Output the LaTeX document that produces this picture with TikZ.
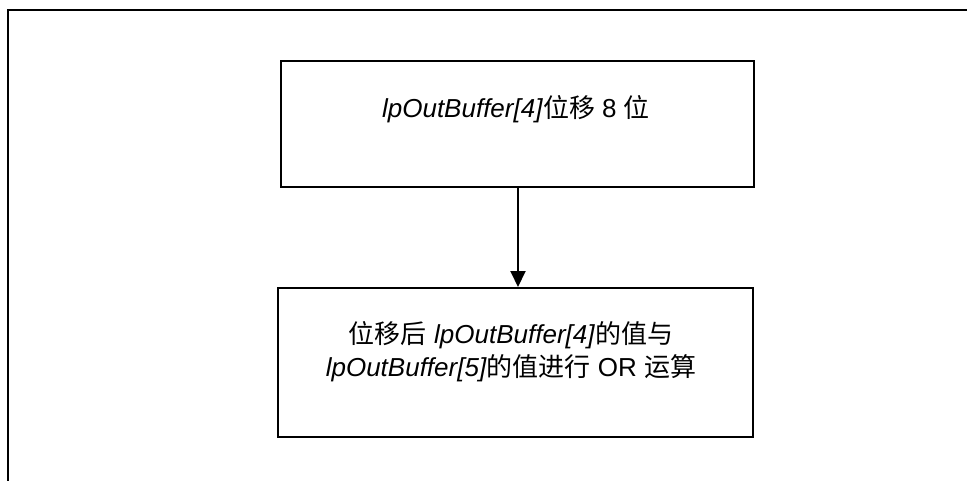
\documentclass[tikz,border=0pt]{standalone}
\usepackage{fontspec}
\setmainfont{Liberation Sans}
\newfontfamily\cjk{Noto Sans CJK SC}
\usetikzlibrary{arrows.meta}
\tikzset{
  boxstyle/.style={draw=black, line width=2pt, minimum width=#1, inner sep=0pt},
  txt/.style={font=\fontsize{26}{33}\selectfont, align=center, inner sep=0pt},
  flow/.style={line width=2pt, -{Triangle[width=15pt,length=16pt]}}
}
\begin{document}
\begin{tikzpicture}[x=1pt,y=-1pt]
\useasboundingbox (0,0) rectangle (967,480);
\draw[line width=2.5pt] (8,481) -- (8,10) -- (968,10);
\node[boxstyle=473pt, minimum height=126pt] (b1) at (517.5,124) {};
\node[boxstyle=475pt, minimum height=149pt] (b2) at (515.5,362.5) {};
\node[txt] (t1) at (516,109) {\textit{lpOutBuffer[4]}{\cjk 位移} 8 {\cjk 位}};
\node[txt] (t2) at (511,351.5) {{\cjk 位移后} \textit{lpOutBuffer[4]}{\cjk 的值与}\\\textit{lpOutBuffer[5]}{\cjk 的值进行} OR {\cjk 运算}};
\draw[flow] ([xshift=0.5pt]b1.south) -- ([xshift=0.5pt]b1.south |- b2.north);
\end{tikzpicture}
\end{document}
